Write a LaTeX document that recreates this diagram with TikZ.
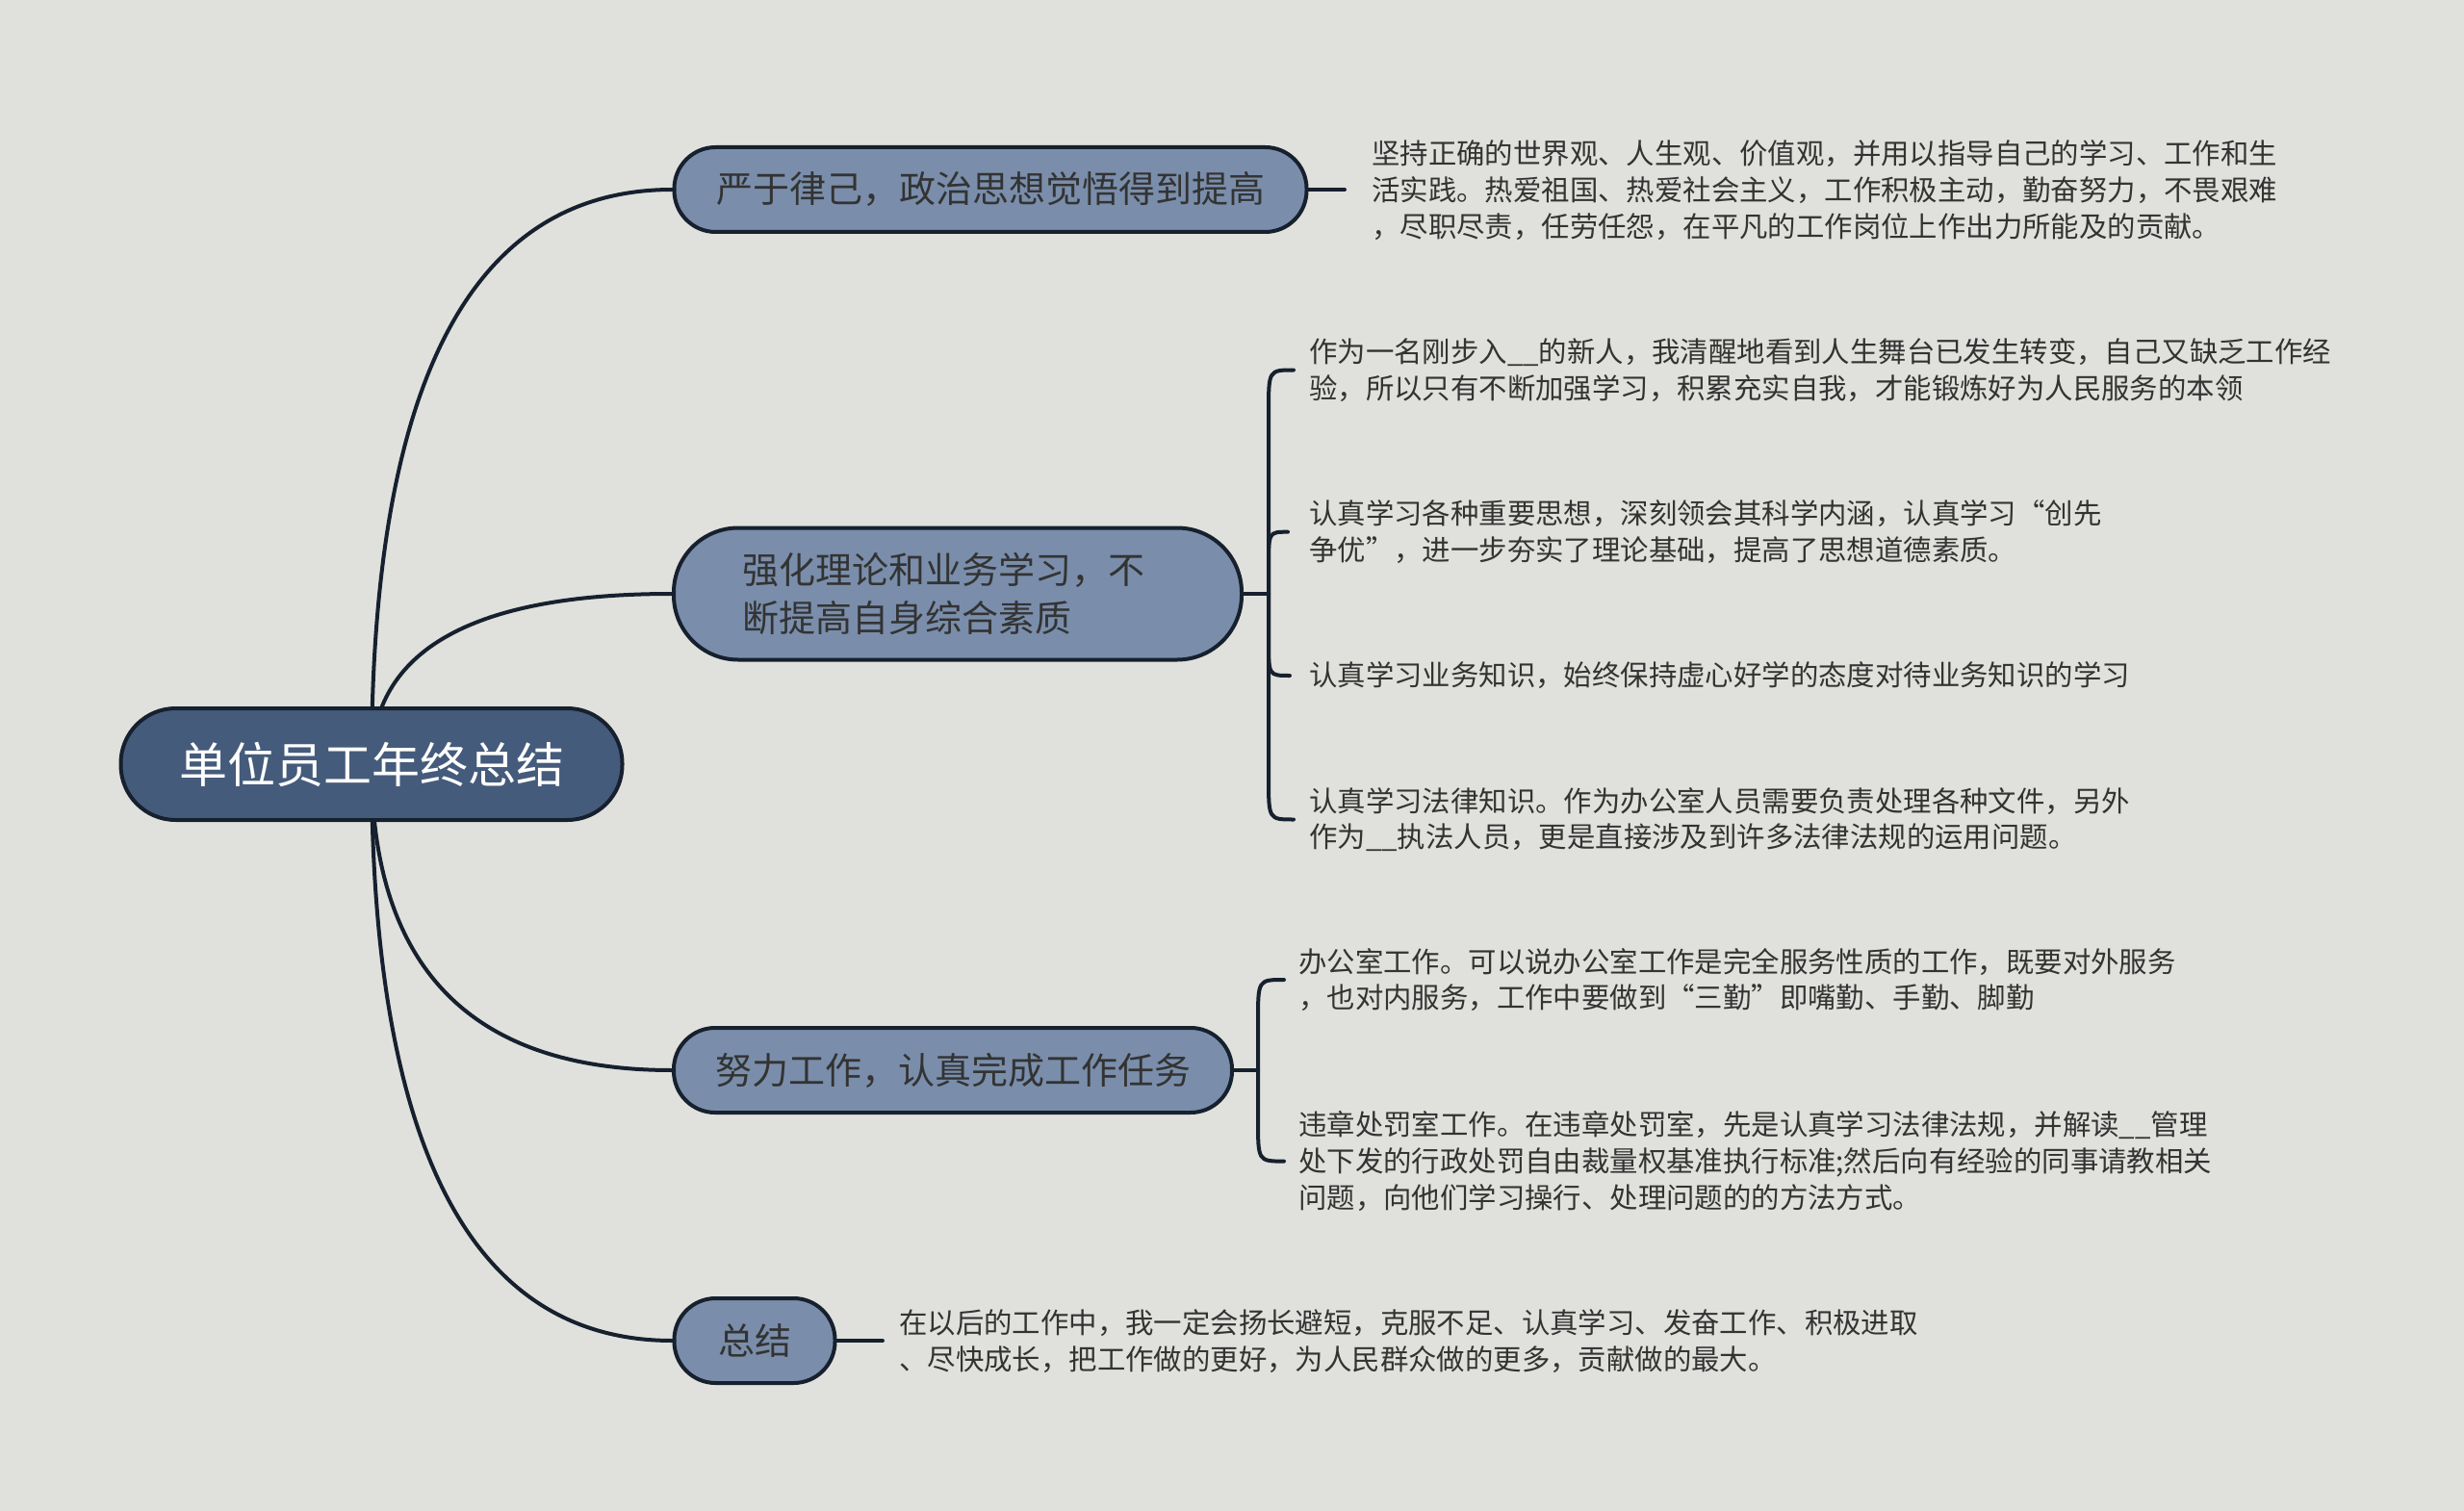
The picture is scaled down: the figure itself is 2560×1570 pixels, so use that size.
\documentclass[tikz,border=0pt]{standalone}
\usepackage{fontspec}
\setmainfont{Noto Sans CJK SC}
\usetikzlibrary{calc,backgrounds}
\definecolor{bgc}{HTML}{E0E1DC}
\definecolor{rootc}{HTML}{455B7B}
\definecolor{brc}{HTML}{7A8EAB}
\definecolor{linec}{HTML}{16202E}
\definecolor{txtc}{HTML}{333333}
\begin{document}
\begin{tikzpicture}[x=1pt,y=-1pt,
  rootbox/.style={draw=linec, line width=4pt, fill=rootc, rounded corners=57pt,
    minimum width=521pt, minimum height=116pt, text=white,
    font=\fontsize{50}{60}\selectfont, inner sep=0pt},
  brbox/.style={draw=linec, line width=4pt, fill=brc, minimum height=88pt,
    rounded corners=43pt, text=txtc, font=\fontsize{38}{50.6}\selectfont, inner sep=0pt},
  detail/.style={anchor=west, align=left, inner sep=0pt, text=txtc,
    font=\fontsize{29.4}{37.6}\selectfont},
  conn/.style={draw=linec, line width=4pt, line cap=round}
]
\useasboundingbox (0,0) rectangle (2560,1570);

% main nodes
\node[rootbox] (root) at (386,794) {单位员工年终总结};
\node[brbox, minimum width=657pt] (b1) at (1029,197) {严于律己，政治思想觉悟得到提高};
\node[brbox, minimum width=590pt, minimum height=137pt, rounded corners=67pt,
  text width=448pt, align=left] (b2) at (995,617) {强化理论和业务学习，不\\断提高自身综合素质};
\node[brbox, minimum width=580pt] (b3) at (990,1112) {努力工作，认真完成工作任务};
\node[brbox, minimum width=167pt] (b4) at (784,1393) {总结};

% detail texts
\node[detail] (d1) at (1425,197.5) {坚持正确的世界观、人生观、价值观，并用以指导自己的学习、工作和生\\活实践。热爱祖国、热爱社会主义，工作积极主动，勤奋努力，不畏艰难\\，尽职尽责，任劳任怨，在平凡的工作岗位上作出力所能及的贡献。};
\node[detail] (c2a) at (1360,384.5) {作为一名刚步入\_\_的新人，我清醒地看到人生舞台已发生转变，自己又缺乏工作经\\验，所以只有不断加强学习，积累充实自我，才能锻炼好为人民服务的本领};
\node[detail] (c2b) at (1360,552.7) {认真学习各种重要思想，深刻领会其科学内涵，认真学习“创先\\争优”，进一步夯实了理论基础，提高了思想道德素质。};
\node[detail] (c2c) at (1360,702) {认真学习业务知识，始终保持虚心好学的态度对待业务知识的学习};
\node[detail] (c2d) at (1360,851.5) {认真学习法律知识。作为办公室人员需要负责处理各种文件，另外\\作为\_\_执法人员，更是直接涉及到许多法律法规的运用问题。};
\node[detail] (c3a) at (1349,1018) {办公室工作。可以说办公室工作是完全服务性质的工作，既要对外服务\\，也对内服务，工作中要做到“三勤”即嘴勤、手勤、脚勤};
\node[detail] (c3b) at (1349,1206.6) {违章处罚室工作。在违章处罚室，先是认真学习法律法规，并解读\_\_管理\\处下发的行政处罚自由裁量权基准执行标准;然后向有经验的同事请教相关\\问题，向他们学习操行、处理问题的的方法方式。};
\node[detail] (d4) at (934,1393.5) {在以后的工作中，我一定会扬长避短，克服不足、认真学习、发奋工作、积极进取\\、尽快成长，把工作做的更好，为人民群众做的更多，贡献做的最大。};

% connector end points
\coordinate (e1) at (1397,197);
\coordinate (j2) at (1318,617);
\coordinate (h2a) at (1344,384.5);
\coordinate (h2b) at (1338,552.7);
\coordinate (h2c) at (1340,702);
\coordinate (h2d) at (1344,851.5);
\coordinate (j3) at (1307,1112);
\coordinate (h3a) at (1334,1018);
\coordinate (h3b) at (1334,1206.6);
\coordinate (e4) at (917,1393);

\begin{scope}[on background layer]
  \fill[bgc] (0,0) rectangle (2560,1570);
  % root to branches
  \foreach \b in {b1,b2,b3,b4}{
    \draw[conn] (root.center) .. controls ($(root.center)!2/3!(root.center|-\b.west)$)
      and ($(\b.west)!2/3!(root.center|-\b.west)$) .. (\b.west);
  }
  % branch 1
  \draw[conn] (b1.east) -- (e1);
  % branch 2 brace
  \draw[conn] (b2.east) -- (j2);
  \draw[conn] (j2) -- ($(j2|-h2a)+(0,44)$) .. controls (j2|-h2a) .. (h2a);
  \draw[conn] (j2) -- ($(j2|-h2b)+(0,36)$) .. controls (j2|-h2b) .. (h2b);
  \draw[conn] (j2) -- ($(j2|-h2c)+(0,-36)$) .. controls (j2|-h2c) .. (h2c);
  \draw[conn] (j2) -- ($(j2|-h2d)+(0,-44)$) .. controls (j2|-h2d) .. (h2d);
  % branch 3 brace
  \draw[conn] (b3.east) -- (j3);
  \draw[conn] (j3) -- ($(j3|-h3a)+(0,44)$) .. controls (j3|-h3a) .. (h3a);
  \draw[conn] (j3) -- ($(j3|-h3b)+(0,-44)$) .. controls (j3|-h3b) .. (h3b);
  % branch 4
  \draw[conn] (b4.east) -- (e4);
\end{scope}
\end{tikzpicture}
\end{document}
